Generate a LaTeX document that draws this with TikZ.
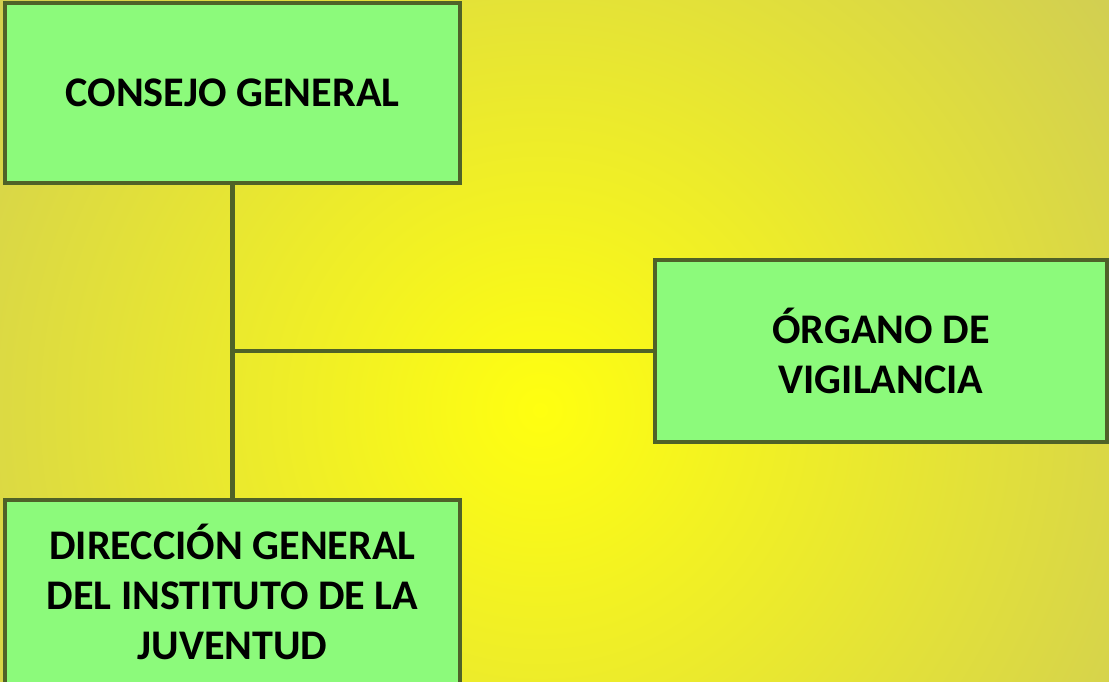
\documentclass[tikz,border=0pt]{standalone}
\usepackage{fontspec}
\setmainfont{Carlito}
\usepackage{tikz}
\tikzset{>=latex}
\usetikzlibrary{calc}
\definecolor{boxfill}{HTML}{8CFA7B}
\definecolor{boxline}{HTML}{4F6228}
\definecolor{glowin}{HTML}{FFFF10}
\definecolor{glowout}{HTML}{BEBA6E}
\tikzset{
  orgbox/.style={draw=boxline, line width=0.1cm, fill=boxfill, align=center,
    font=\fontsize{30}{35.6}\selectfont\bfseries, inner sep=0pt},
  orgline/.style={draw=boxline, line width=0.12cm}
}

\begin{document}
\begin{tikzpicture}[x=0.025cm, y=-0.025cm]
            \useasboundingbox (0, 0) rectangle (1109, 682);
            \begin{scope}
                \clip (0, 0) rectangle (1109, 682);
                \shade[inner color=glowin, outer color=glowout] (540, 410) circle (1000);
            \end{scope}
            \node[orgbox, minimum width=11.35cm, minimum height=4.5cm] (consejo) at (232.5, 93) {CONSEJO GENERAL};
            \node[orgbox, minimum width=11.3cm, minimum height=4.55cm] (organo) at (881, 351) {ÓRGANO DE\\VIGILANCIA};
            \node[orgbox, minimum width=11.35cm, minimum height=4.6cm] (direccion) at (232.5, 592) {DIRECCIÓN GENERAL\\DEL INSTITUTO DE LA\\JUVENTUD};
            \coordinate (joint) at (consejo.south |- organo.west);
            \draw[orgline] (consejo) -- (direccion);
            \draw[orgline] (joint) -- (organo);
        \end{tikzpicture}
\end{document}
